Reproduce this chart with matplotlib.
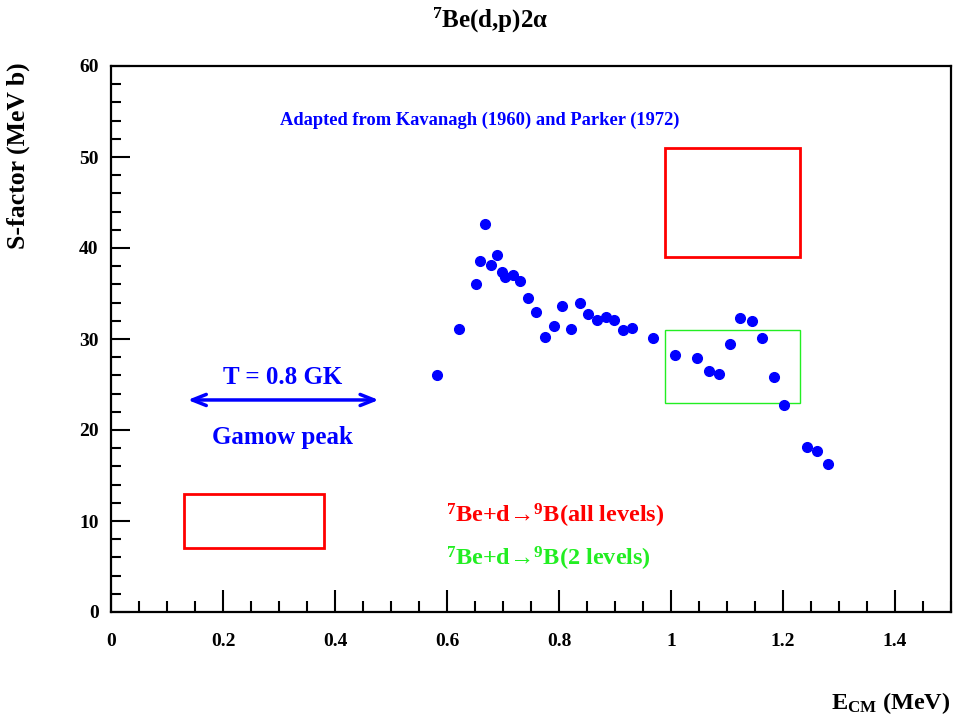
import matplotlib
matplotlib.use("Agg")
import matplotlib.pyplot as plt
from matplotlib.patches import Rectangle
from matplotlib.ticker import MultipleLocator, FormatStrFormatter

# S-factor data (Kavanagh 1960, Parker 1972)
e_cm = [0.582, 0.621, 0.651, 0.659, 0.668, 0.679, 0.690, 0.699, 0.704, 0.717,
        0.730, 0.745, 0.759, 0.775, 0.791, 0.806, 0.822, 0.838, 0.852, 0.868,
        0.884, 0.899, 0.915, 0.931, 0.968, 1.007, 1.046, 1.067, 1.085, 1.105,
        1.123, 1.144, 1.163, 1.184, 1.201, 1.242, 1.261, 1.280]
s_factor = [26.0, 31.1, 36.0, 38.6, 42.6, 38.1, 39.2, 37.4, 36.8, 37.0,
            36.4, 34.5, 33.0, 30.25, 31.4, 33.6, 31.05, 33.95, 32.8, 32.05,
            32.4, 32.1, 31.0, 31.2, 30.1, 28.2, 27.9, 26.45, 26.15, 29.5,
            32.3, 31.95, 30.1, 25.85, 22.8, 18.1, 17.7, 16.3]

# boxes: (x0, y0, x1, y1)
box_all = (0.99, 39.0, 1.23, 51.0)
box_two = (0.99, 23.0, 1.23, 31.0)
box_low = (0.13, 7.0, 0.38, 13.0)
gamow_range = (0.137, 0.478)
gamow_y = 23.3

plt.rcParams['font.family'] = ['Liberation Serif', 'DejaVu Serif']
plt.rcParams['font.weight'] = 'bold'
plt.rcParams['mathtext.fontset'] = 'custom'
plt.rcParams['mathtext.rm'] = 'Liberation Serif:bold'
plt.rcParams['mathtext.bf'] = 'Liberation Serif:bold'
plt.rcParams['mathtext.default'] = 'rm'

fig = plt.figure(figsize=(9.55, 7.21), dpi=100)
ax = fig.add_axes([111/955, 1 - 612/721, 840/955, 546/721])

ax.plot(e_cm, s_factor, 'o', color='blue', ms=7, mec='blue')

ax.set_xlim(0, 1.5)
ax.set_ylim(0, 60)
ax.xaxis.set_major_locator(MultipleLocator(0.2))
ax.xaxis.set_minor_locator(MultipleLocator(0.05))
ax.yaxis.set_major_locator(MultipleLocator(10))
ax.yaxis.set_minor_locator(MultipleLocator(2))
ax.xaxis.set_major_formatter(FormatStrFormatter('%g'))
ax.tick_params(axis='x', which='major', direction='in', length=16, width=1.5,
               pad=15, labelsize=14)
ax.tick_params(axis='x', which='minor', direction='in', length=8, width=1.5)
ax.tick_params(axis='y', which='major', direction='in', length=14, width=1.5,
               pad=9, labelsize=14)
ax.tick_params(axis='y', which='minor', direction='in', length=7.5, width=1.5)
for lab in ax.get_xticklabels() + ax.get_yticklabels():
    lab.set_fontweight('bold')
for sp in ax.spines.values():
    sp.set_linewidth(1.6)

for (x0, y0, x1, y1), c in [(box_all, 'red'), (box_two, '#22ee22'), (box_low, 'red')]:
    lw = 1.0 if c != 'red' else 2.0
    ax.add_patch(Rectangle((x0, y0), x1 - x0, y1 - y0, fill=False,
                           edgecolor=c, lw=lw))

ax.annotate('', xy=(gamow_range[0], gamow_y), xytext=(gamow_range[1], gamow_y),
            arrowprops=dict(arrowstyle='<->,head_length=1.0,head_width=0.4',
                            color='blue', lw=2.5, shrinkA=0, shrinkB=0))
ax.text(0.307, 25.8, 'T = 0.8 GK', color='blue', fontsize=18,
        fontweight='bold', ha='center', va='center')
ax.text(0.307, 19.2, 'Gamow peak', color='blue', fontsize=18,
        fontweight='bold', ha='center', va='center')
ax.text(0.658, 54.0, 'Adapted from Kavanagh (1960) and Parker (1972)',
        color='blue', fontsize=13.3, fontweight='bold', ha='center', va='center')
ax.text(0.598, 10.6, r'$^{7}$Be+d→$^{9}$B(all levels)', color='red',
        fontsize=17.5, fontweight='bold', ha='left', va='center')
ax.text(0.598, 5.85, r'$^{7}$Be+d→$^{9}$B(2 levels)', color='#22ee22',
        fontsize=17.5, fontweight='bold', ha='left', va='center')

fig.text(490/955, 1 - 20/721, r'$^{7}$Be(d,p)2α', fontsize=18,
         fontweight='bold', ha='center', va='center')
fig.text(18/955, 1 - 62/721, 'S-factor (MeV b)', fontsize=18.5,
         fontweight='bold', rotation=90, ha='center', va='top')
fig.text(950/955, 1 - 703/721, r'E$_{\mathrm{CM}}$ (MeV)', fontsize=17.5,
         fontweight='bold', ha='right', va='center')

fig.savefig('out.png', dpi=100)
